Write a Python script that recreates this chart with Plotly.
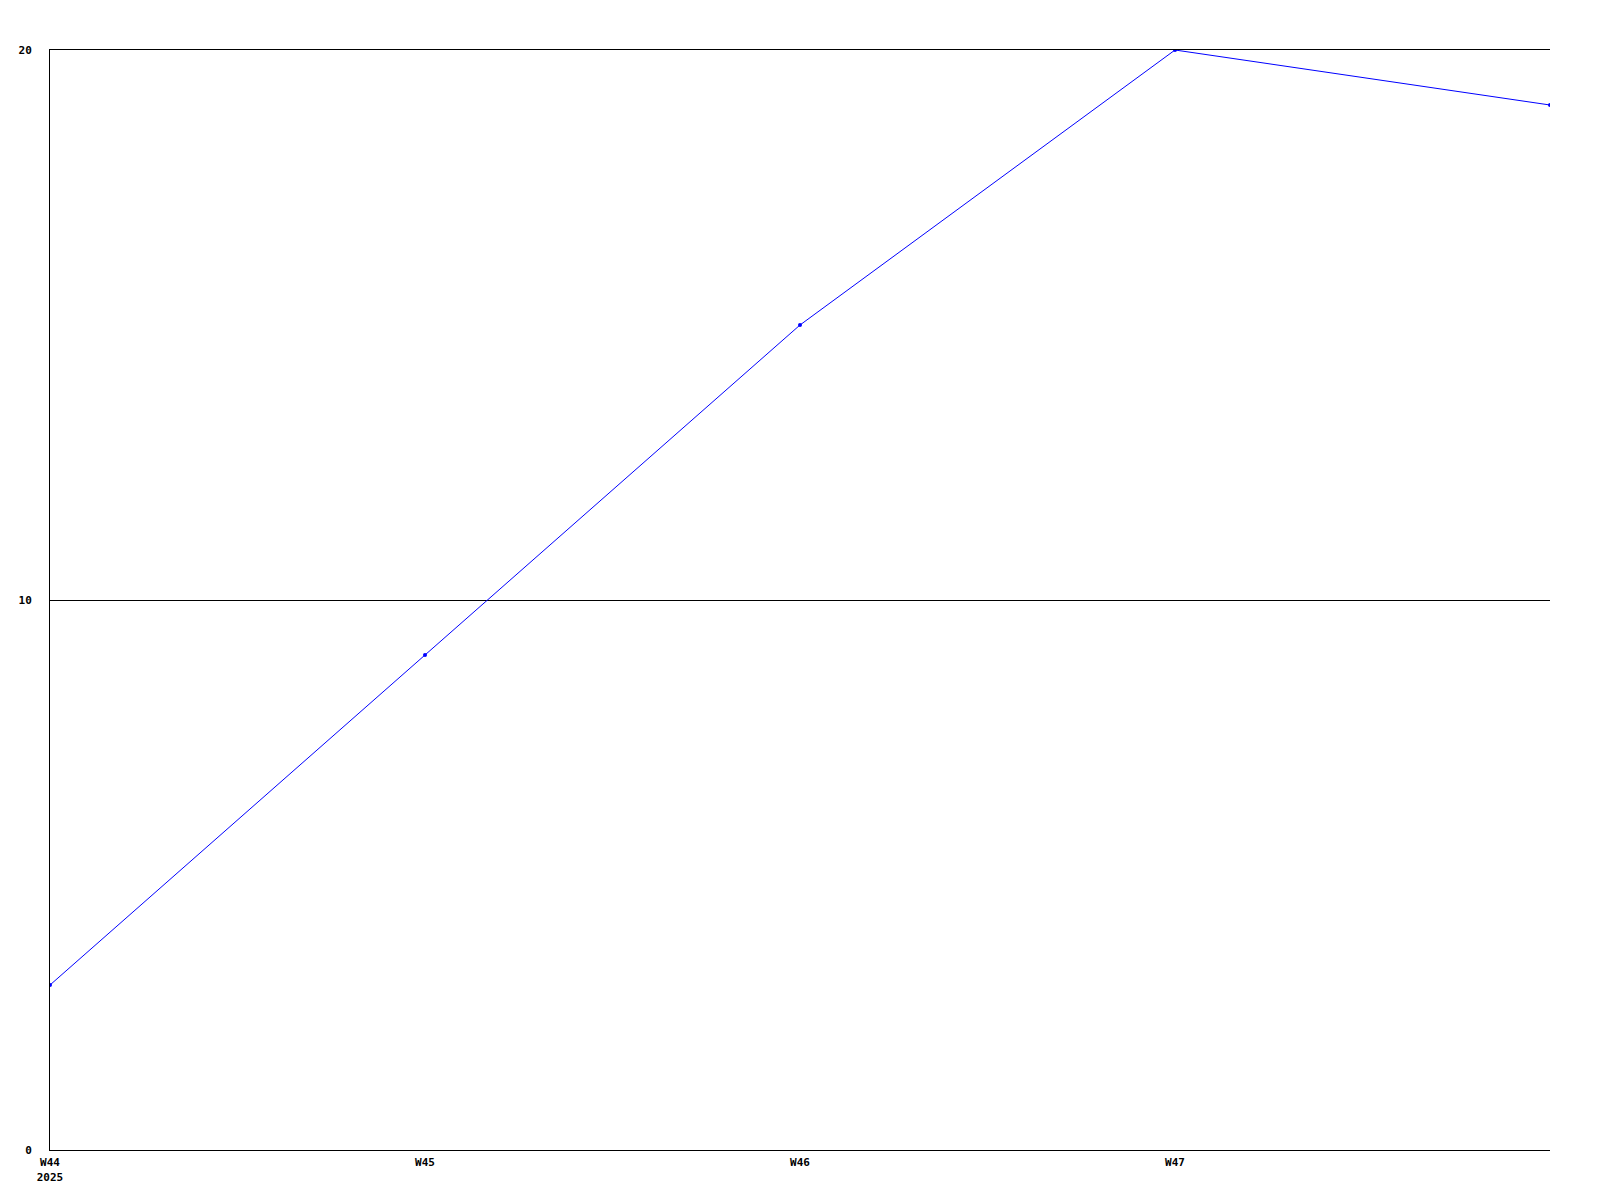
import plotly.graph_objects as go

weeks = ["W44", "W45", "W46", "W47", "W48"]
values = [3, 9, 15, 20, 19]
x_tick_labels = ["W44<br>2025", "W45", "W46", "W47"]
y_ticks = [0, 10, 20]

xs = list(range(len(weeks)))

fig = go.Figure()
fig.add_trace(go.Scatter(
    x=xs, y=values, mode="lines+markers",
    line=dict(color="#0000ff", width=1),
    marker=dict(color="#0000ff", size=4),
    hoverinfo="skip",
))

font = dict(family="DejaVu Sans Mono", size=11, color="black", weight="bold")

# page body has an 8px margin, so shift plot area to match the reference
fig.update_layout(
    width=1592, height=1192,
    margin=dict(l=42, r=50, t=42, b=50, autoexpand=False),
    paper_bgcolor="white", plot_bgcolor="white",
    showlegend=False,
    template="none",
)
fig.update_xaxes(
    range=[0, len(weeks) - 1],
    tickvals=xs[:len(x_tick_labels)], ticktext=x_tick_labels,
    showgrid=False, zeroline=False,
    showline=True, mirror=True, linecolor="black", linewidth=1,
    ticks="", tickfont=font, ticklabelstandoff=2, automargin=False,
)
fig.update_yaxes(
    range=[0, 20], tickvals=y_ticks,
    showgrid=True, gridcolor="black", gridwidth=1,
    zeroline=False,
    showline=True, linecolor="black", linewidth=1,
    ticks="", tickfont=font, ticklabelstandoff=15, automargin=False,
)

fig.write_html("out.html")
